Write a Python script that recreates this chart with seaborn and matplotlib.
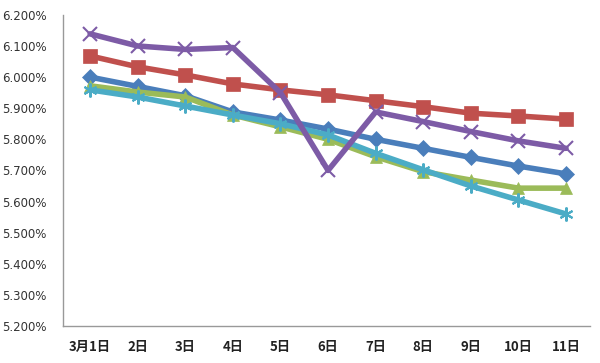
import matplotlib
matplotlib.use("Agg")
import matplotlib.pyplot as plt
import seaborn as sns
import pandas as pd
from matplotlib.ticker import FuncFormatter

categories = ["3月1日", "2日", "3日", "4日", "5日", "6日", "7日", "8日", "9日", "10日", "11日"]
purple = [6.139, 6.100, 6.089, 6.095, 5.950, 5.700, 5.888, 5.857, 5.825, 5.795, 5.771]
red = [6.068, 6.033, 6.007, 5.978, 5.959, 5.943, 5.924, 5.905, 5.884, 5.875, 5.865]
blue = [6.000, 5.970, 5.940, 5.888, 5.862, 5.833, 5.800, 5.771, 5.742, 5.714, 5.689]
green = [5.972, 5.952, 5.936, 5.878, 5.840, 5.800, 5.744, 5.696, 5.669, 5.643, 5.643]
cyan = [5.959, 5.936, 5.907, 5.878, 5.850, 5.814, 5.755, 5.702, 5.650, 5.605, 5.560]

series = {"S1": purple, "S2": red, "S3": blue, "S4": green, "S5": cyan}
colors = {"S1": "#7D5BA6", "S2": "#C0504D", "S3": "#4A7EBB", "S4": "#9BBB59", "S5": "#4BACC6"}
markers = {"S1": "x", "S2": "s", "S3": "D", "S4": "^", "S5": (6, 2, 0)}
msizes = {"S1": 10, "S2": 10, "S3": 8, "S4": 9, "S5": 10}

rows = []
for name, vals in series.items():
    for i, v in enumerate(vals):
        rows.append({"series": name, "idx": i, "val": v})
df = pd.DataFrame(rows)

sns.set_theme(style="white")
plt.rcParams['font.family'] = ['Noto Sans CJK SC', 'DejaVu Sans']

fig = plt.figure(figsize=(6, 3.63), dpi=100)
ax = fig.add_axes([0.105, 0.102, 0.878, 0.857])

order = ["S2", "S3", "S4", "S5", "S1"]
for name in order:
    sub = df[df["series"] == name]
    sns.lineplot(data=sub, x="idx", y="val", ax=ax, color=colors[name],
                 linewidth=4, marker=markers[name], markersize=msizes[name],
                 markeredgecolor=colors[name], markeredgewidth=1.5 if name in ("S1", "S5") else 0.5,
                 legend=False)

ax.set_xlim(-0.57, 10.5)
ax.set_ylim(5.2, 6.2)
ax.set_yticks([5.2 + 0.1 * k for k in range(11)])
ax.yaxis.set_major_formatter(FuncFormatter(lambda v, p: f"{v:.3f}%"))
ax.set_xticks(range(len(categories)))
ax.set_xticklabels(categories, fontweight="bold", fontsize=9.5, color="#222222")
ax.tick_params(axis="x", length=0, pad=10)
ax.tick_params(axis="y", length=0, pad=12, labelsize=8.5, labelcolor="#333333")
for lbl in ax.get_yticklabels():
    lbl.set_family(['DejaVu Sans'])
ax.set_xlabel("")
ax.set_ylabel("")
for s in ["top", "right"]:
    ax.spines[s].set_visible(False)
for s in ["left", "bottom"]:
    ax.spines[s].set_color("#999999")
    ax.spines[s].set_linewidth(1.0)
ax.grid(False)

fig.savefig("out.png", dpi=100)
